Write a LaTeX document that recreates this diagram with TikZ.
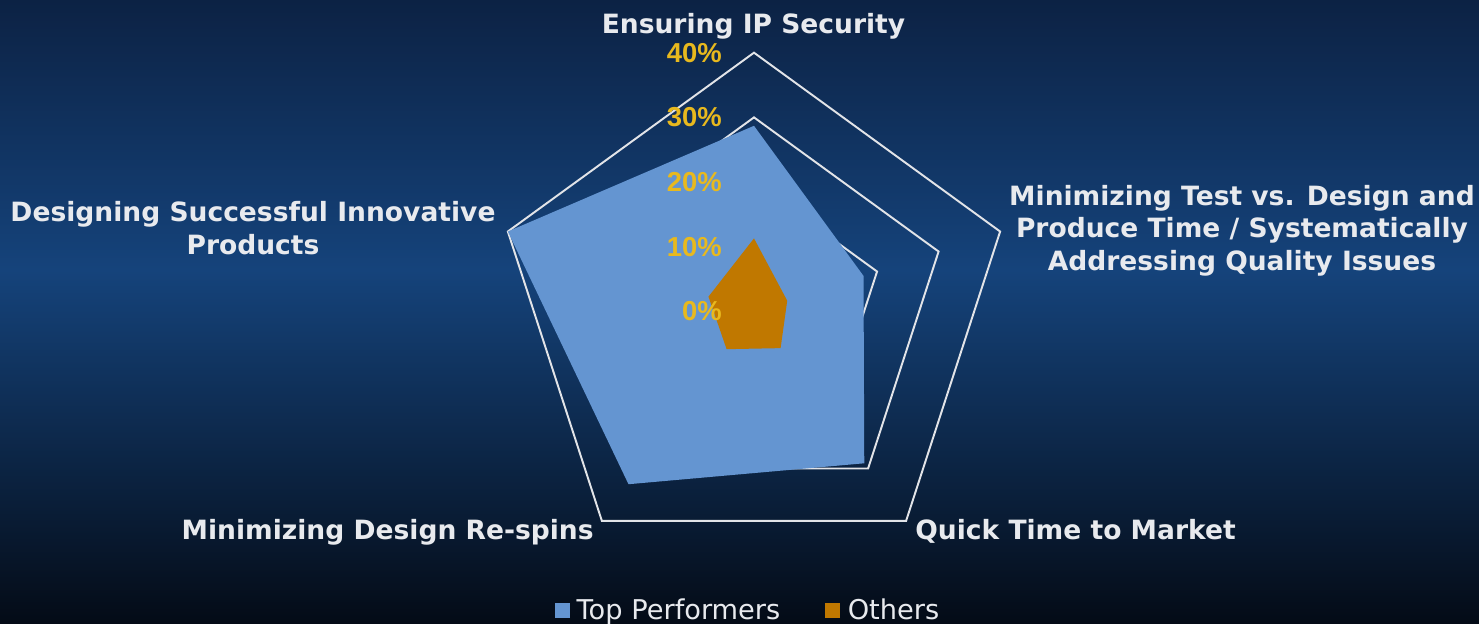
\documentclass[tikz,border=0pt]{standalone}
\usepackage{fontspec}
\setmainfont{DejaVu Sans}
\newfontfamily\tickfont{Liberation Sans}
\usetikzlibrary{positioning}
\definecolor{bgtop}{HTML}{0C2244}
\definecolor{bgmid}{HTML}{15437B}
\definecolor{bglow}{HTML}{0B2142}
\definecolor{bgbottom}{HTML}{040B16}
\definecolor{gridwhite}{HTML}{E2E4E8}
\definecolor{labelwhite}{HTML}{E8EAEE}
\definecolor{tickgold}{HTML}{E8B91E}
\definecolor{topblue}{HTML}{6495D1}
\definecolor{otherorange}{HTML}{C07800}
\tikzset{
  axislabel/.style={
    text=labelwhite,
    font=\bfseries\fontsize{15.1}{18.5}\selectfont,
    inner sep=0pt,
    align=center
  },
  ticklabel/.style={
    text=tickgold,
    font=\tickfont\bfseries\fontsize{15.6}{18}\selectfont,
    anchor=east,
    inner sep=0pt
  },
  gridline/.style={draw=gridwhite, line width=1.1pt, line join=miter},
  legendkey/.style={rectangle, minimum size=0.3cm, inner sep=0pt},
  legendtext/.style={
    text=labelwhite,
    font=\fontsize{15.5}{18}\selectfont,
    text height=11.8pt,
    text depth=3.7pt,
    inner sep=0pt,
    yshift=-0.035cm
  }
}

\begin{document}
\begin{tikzpicture}

	% background
	\shade[top color=bgtop, bottom color=bgmid] (-15.08,6.23) rectangle (14.50,0.83);
	\shade[top color=bgmid, middle color=bglow, bottom color=bgbottom] (-15.08,0.83) rectangle (14.50,-6.25);
	\useasboundingbox (-15.08,6.23) rectangle (14.50,-6.25);

	% grid, 10% steps
	\foreach \lvl in {1,...,4}
		\draw[gridline] (90:{\lvl*1.294}) -- (18:{\lvl*1.294}) -- (-54:{\lvl*1.294})
			-- (-126:{\lvl*1.294}) -- (162:{\lvl*1.294}) -- cycle;

	% top performers
	\fill[topblue] (90:{28.7*0.1294}) -- (18:{17.8*0.1294}) -- (-54:{29.0*0.1294})
		-- (-126:{33.0*0.1294}) -- (162:{40.0*0.1294}) -- cycle;

	% others
	\fill[otherorange] (90:{11.3*0.1294}) -- (18:{5.4*0.1294}) -- (-54:{7.0*0.1294})
		-- (-126:{7.2*0.1294}) -- (162:{7.4*0.1294}) -- cycle;

	% ticks
	\foreach \lvl in {0,...,4} {
		\pgfmathtruncatemacro{\val}{\lvl*10}
		\node[ticklabel] (tick_\lvl) at (-0.64,{\lvl*1.294}) {\val\%};
	}

	% axis labels
	\node[axislabel, anchor=base] (label_ip) at (-0.01,5.56) {Ensuring IP Security};
	\node[axislabel] (label_test) at (9.76,1.62) {Minimizing Test vs. Design and\\Produce Time / Systematically\\Addressing Quality Issues};
	\node[axislabel, anchor=base west] (label_market) at (3.22,-4.57) {Quick Time to Market};
	\node[axislabel, anchor=base east] (label_respin) at (-3.2,-4.57) {Minimizing Design Re-spins};
	\node[axislabel] (label_innov) at (-10.02,1.67) {Designing Successful Innovative\\Products};

	% legend
	\node[legendkey, fill=topblue] (key_top) at (-3.83,-5.98) {};
	\node[legendtext, right=0.12cm of key_top] (text_top) {Top Performers};
	\node[legendkey, fill=otherorange, right=0.87cm of text_top, yshift=0.035cm] (key_others) {};
	\node[legendtext, right=0.15cm of key_others] (text_others) {Others};

\end{tikzpicture}
\end{document}
